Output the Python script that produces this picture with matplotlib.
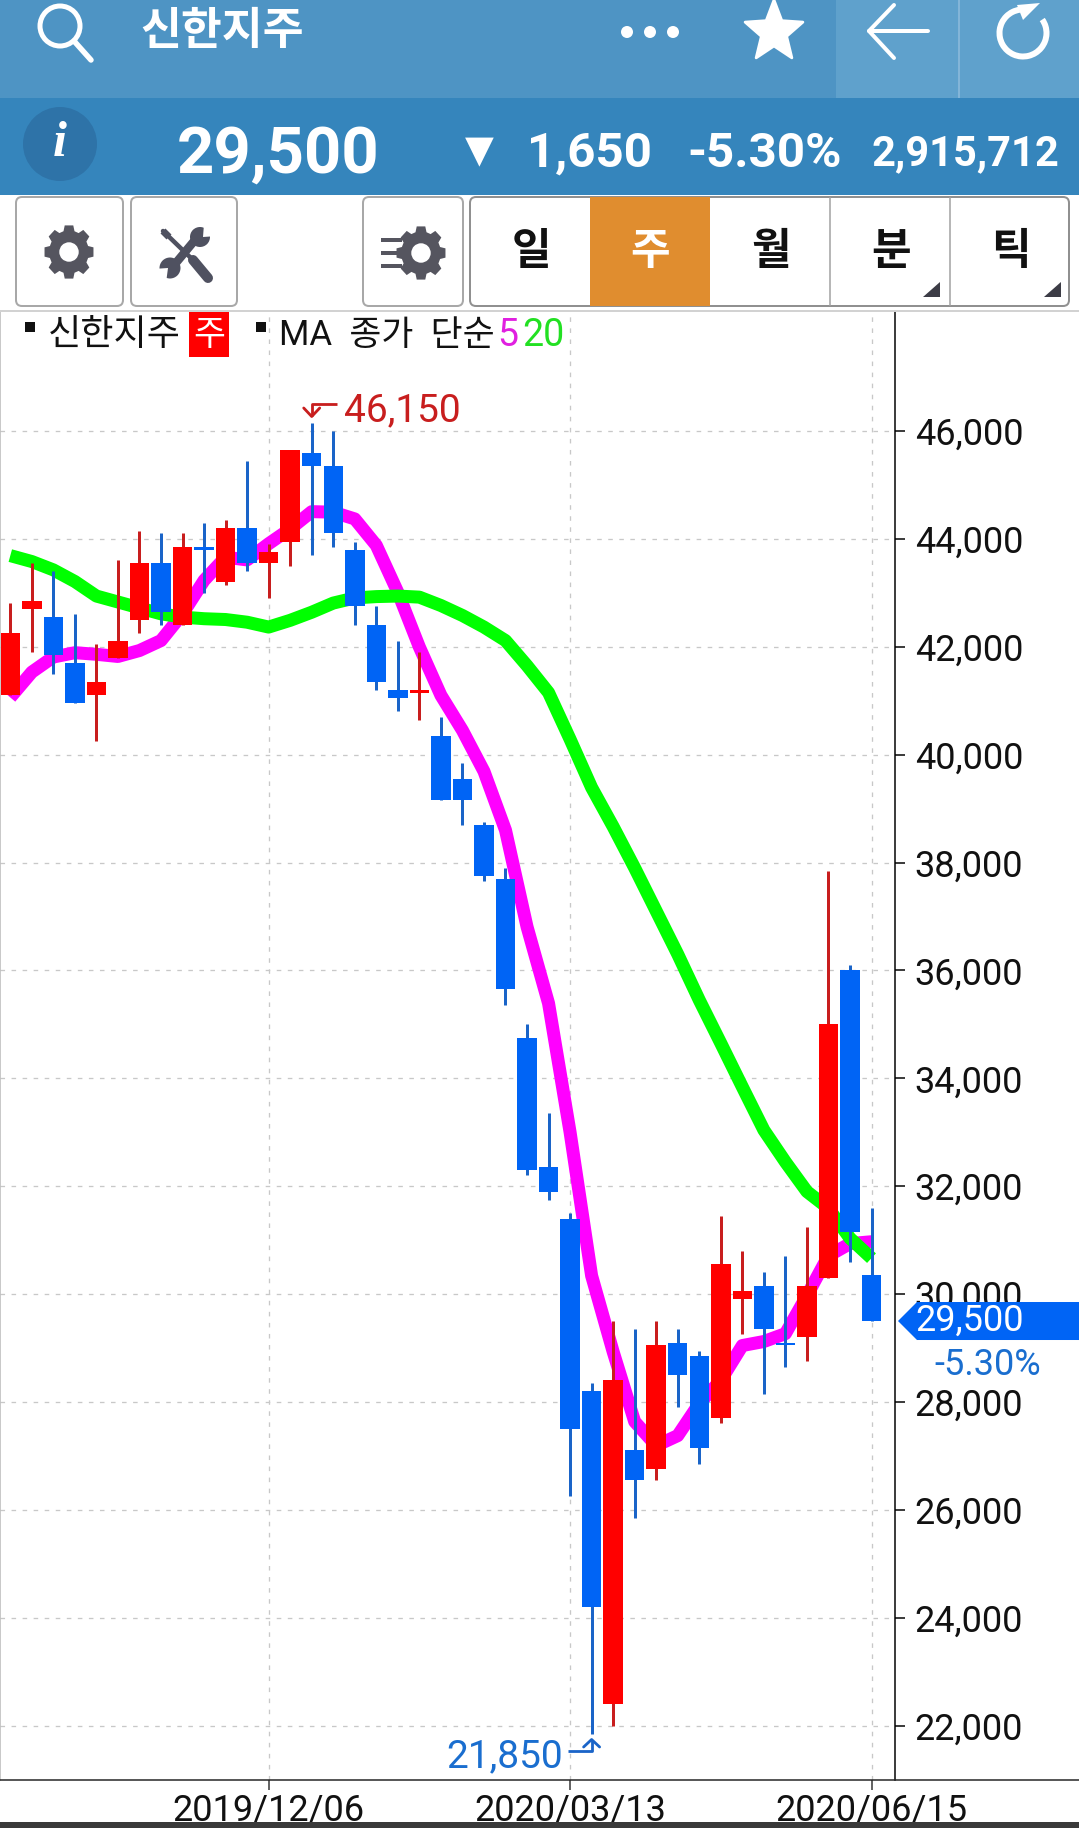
import numpy as np
import matplotlib
matplotlib.use("Agg")
import matplotlib.pyplot as plt
from matplotlib.patches import Polygon, Rectangle, Circle, FancyBboxPatch, Arc

plt.rcParams['font.family'] = ['Roboto', 'Noto Sans CJK KR', 'DejaVu Sans']

# ---------- data ----------
opens = [41100, 42700, 42550, 41700, 41100, 41800, 42500, 43550, 42400, 43850, 43200, 44200, 43550, 43950,
         45600, 45350, 43800, 42400, 41200, 41150, 40350, 39550, 38700, 37700, 34750, 32350, 31400, 28200,
         22400, 27100, 26750, 29100, 28850, 27700, 29900, 30150, 29100, 29200, 30300, 36000, 30350]
closes = [42250, 42850, 41850, 40950, 41350, 42100, 43550, 42650, 43850, 43800, 44200, 43550, 43750, 45650,
          45350, 44100, 42750, 41350, 41050, 41200, 39150, 39150, 37750, 35650, 32300, 31900, 27500, 24200,
          28400, 26550, 29050, 28500, 27150, 30550, 30050, 29350, 29050, 30150, 35000, 31150, 29500]
highs = [42820, 43550, 43400, 42600, 42050, 43600, 44150, 44100, 44100, 44300, 44350, 45450, 43900, 45650,
         46150, 46000, 43950, 42750, 42100, 41900, 40700, 39850, 38750, 37900, 35000, 33350, 31500, 28350,
         29500, 29350, 29500, 29350, 28950, 31450, 30800, 30400, 30700, 31250, 37850, 36100, 31600]
lows = [41100, 41900, 41500, 40950, 40250, 41800, 42250, 42400, 42400, 43000, 43150, 43400, 42900, 43500,
        43700, 43850, 42400, 41200, 40800, 40650, 39150, 38700, 37650, 35350, 32200, 31750, 26250, 21850,
        22000, 25850, 26550, 27900, 26850, 27600, 29250, 28150, 28650, 28750, 30300, 30600, 29500]
ma5 = [41060, 41530, 41810, 41890, 41860, 41820, 41930, 42115, 42610, 43230, 43660, 43610, 43910, 44185,
       44505, 44495, 44370, 43880, 43010, 41995, 41100, 40450, 39690, 38600, 36810, 35390, 33000, 30340,
       28930, 27635, 27190, 27375, 27970, 28400, 29045, 29120, 29265, 29970, 30710, 30935, 30970]
ma20 = [43690, 43580, 43425, 43210, 42940, 42830, 42720, 42610, 42550, 42520, 42505, 42455, 42365, 42490,
        42640, 42810, 42905, 42930, 42940, 42920, 42765, 42580, 42365, 42115, 41650, 41150, 40285, 39390,
        38665, 37900, 37100, 36300, 35450, 34650, 33840, 33040, 32450, 31900, 31590, 31035, 30665]
y_ticks = [22000, 24000, 26000, 28000, 30000, 32000, 34000, 36000, 38000, 40000, 42000, 44000, 46000]
date_pos = [12, 26, 40]
date_labels = ['2019/12/06', '2020/03/13', '2020/06/15']

W, H = 1079, 1828
fig = plt.figure(figsize=(W / 100, H / 100), dpi=100, facecolor='white')
PT = 0.72  # points per pixel

# ---------- chart axes ----------
AX_L, AX_R, AX_T, AX_B = 0, 895, 312, 1780
ax = fig.add_axes([AX_L / W, 1 - AX_B / H, (AX_R - AX_L) / W, (AX_B - AX_T) / H])
SLOPE = 0.05394
DX = 21.53
X0 = 10.3
ax.set_xlim((AX_L - X0) / DX, (AX_R - X0) / DX)
ax.set_ylim(46000 - (AX_B - 431) / SLOPE, 46000 - (AX_T - 431) / SLOPE)
for s in ['top', 'bottom']:
    ax.spines[s].set_visible(False)
ax.spines['left'].set_color('#b8b8b8')
ax.spines['left'].set_linewidth(1.5 * PT)
ax.spines['right'].set_color('black')
ax.spines['right'].set_linewidth(1.5 * PT)

ax.yaxis.tick_right()
ax.set_yticks(y_ticks)
ax.set_yticklabels([f'{v:,}' for v in y_ticks], fontsize=26, color='#111111')
ax.tick_params(axis='y', length=10 * PT, width=1.5 * PT, pad=7, color='black')
ax.set_xticks(date_pos)
ax.set_xticklabels(date_labels, fontsize=26, color='#111111')
ax.tick_params(axis='x', length=10 * PT, width=1.5 * PT, pad=2, color='#333333')

ax.grid(True, color='#c8c8c8', lw=1.3 * PT, linestyle=(0, (3.5, 5)), zorder=0)
ax.set_axisbelow(True)

x = np.arange(len(opens))
ax.plot(x, ma5, color='#ff00ff', lw=13 * PT, zorder=2, solid_joinstyle='round', solid_capstyle='butt')
ax.plot(x, ma20, color='#00ff00', lw=13 * PT, zorder=3, solid_joinstyle='round', solid_capstyle='butt')
for i in x:
    up = closes[i] > opens[i]
    wick = '#c81e1e' if up else '#1a64c8'
    body = '#ff0000' if up else '#0064f5'
    ax.vlines(i, lows[i], highs[i], color=wick, lw=3 * PT, zorder=4)
    ax.bar(i, abs(closes[i] - opens[i]), bottom=min(opens[i], closes[i]), width=19.5 / DX, color=body, zorder=5, lw=0)

# ---------- screen (pixel) layer ----------
ui = fig.add_axes([0, 0, 1, 1], facecolor='none')
ui.set_xlim(0, W)
ui.set_ylim(H, 0)
ui.axis('off')


def y_px(v):
    return 431 + (46000 - v) * SLOPE


def x_px(i):
    return X0 + i * DX


def line(xs, ys, color, lw, **kw):
    ui.plot(xs, ys, color=color, lw=lw * PT, solid_capstyle=kw.pop('cap', 'round'), **kw)


def gear(cx, cy, r, color='#55555f'):
    n = 8
    pts = []
    for k in range(n):
        a = 2 * np.pi * k / n - np.pi / 2
        w = np.pi / n * 0.55
        pts += [(a - w * 1.3, r * 0.80), (a - w * 0.8, r), (a + w * 0.8, r), (a + w * 1.3, r * 0.80)]
    poly = [(cx + rr * np.cos(a) * 0.92, cy + rr * np.sin(a)) for a, rr in pts]
    ui.add_patch(Polygon(poly, closed=True, fc=color, ec='none', zorder=3))
    ui.add_patch(Circle((cx, cy), r * 0.36, fc='white', ec='none', zorder=4))


# bottom rule + bottom band
line([0, W], [AX_B, AX_B], '#222222', 1.5, cap='butt')
ui.add_patch(Rectangle((0, 1822), W, 6, fc='#3a3a3a', ec='none', zorder=6))

# header bands
ui.add_patch(Rectangle((0, 0), W, 98, fc='#4e94c4', ec='none'))
ui.add_patch(Rectangle((836, 0), W - 836, 98, fc='#5fa1cc', ec='none'))
line([959, 959], [0, 98], '#8fbcdc', 1.5, cap='butt', zorder=2)
ui.add_patch(Rectangle((0, 98), W, 97, fc='#3585bc', ec='none'))
ui.add_patch(Rectangle((0, 195), W, 117, fc='white', ec='none'))
line([0, W], [311, 311], '#c4c4c4', 1.5, cap='butt', zorder=2)

# search icon
ui.add_patch(Circle((60, 26), 20, fc='none', ec='white', lw=5 * PT, zorder=3))
line([74, 91], [41, 60], 'white', 5.5, zorder=3)
ui.text(140, 31, '신한지주', color='white', fontsize=32, fontweight='bold', ha='left', va='center',
        family=['Noto Sans CJK KR'])
for cx in (627, 650, 673):
    ui.add_patch(Circle((cx, 32), 6, fc='white', ec='none', zorder=3))
# star
star = []
for k in range(10):
    rr = 32 if k % 2 == 0 else 14
    a = -np.pi / 2 + k * np.pi / 5
    star.append((774 + rr * np.cos(a) * 0.95, 32 + rr * np.sin(a)))
ui.add_patch(Polygon(star, closed=True, fc='white', ec='white', lw=2, joinstyle='round', zorder=3))
# back arrow
line([869, 928], [31, 31], 'white', 4, zorder=3)
line([894, 869, 894], [5, 31, 58], 'white', 4, zorder=3)
# reload
ui.add_patch(Arc((1023, 33), 47, 47, theta1=-35, theta2=262, ec='white', lw=6 * PT, zorder=3))
ui.add_patch(Polygon([(1040, 3), (1017, 5), (1023, 20)], closed=True, fc='white', ec='none', zorder=3))

# info band
ui.add_patch(Circle((60, 144), 37, fc='#2e73a8', ec='none', zorder=3))
ui.text(60, 144, 'i', color='white', fontsize=36, fontstyle='italic', fontweight='bold', ha='center', va='center',
        family=['Liberation Serif'], zorder=4)
ui.text(177, 155, '29,500', color='white', fontsize=47, fontweight='bold', ha='left', va='center', zorder=4)
ui.text(479, 152, '▼', color='white', fontsize=27, ha='center', va='center', family=['DejaVu Sans'], zorder=4)
ui.text(527, 154, '1,650', color='white', fontsize=35.5, fontweight='bold', ha='left', va='center', zorder=4)
ui.text(687, 154, '-5.30%', color='white', fontsize=35.5, fontweight='bold', ha='left', va='center', zorder=4)
ui.text(1059, 154, '2,915,712', color='white', fontsize=30, fontweight='bold', ha='right', va='center', zorder=4)


# toolbar
def button(x0, x1):
    ui.add_patch(FancyBboxPatch((x0 + 5, 202), x1 - x0 - 10, 99, boxstyle='round,pad=5,rounding_size=6',
                                fc='white', ec='#a8a8a8', lw=2 * PT, zorder=2))


button(16, 123)
button(131, 237)
button(363, 463)
gear(69, 252, 27)
# tools icon
TOOL = '#4f5160'
line([163, 193], [231, 260], TOOL, 4.5, zorder=3)
line([163, 169], [231, 237], TOOL, 7, cap='butt', zorder=3)
line([193, 208], [260, 278], TOOL, 10, zorder=3)
line([195, 175], [240, 264], TOOL, 8.5, cap='butt', zorder=4)
ui.add_patch(Circle((200, 237), 10, fc=TOOL, ec='none', zorder=4))
ui.add_patch(Circle((170, 268), 10.5, fc=TOOL, ec='none', zorder=4))
ui.add_patch(Polygon([(203, 237), (218, 236), (204, 224)], closed=True, fc='white', ec='none', zorder=5))
ui.add_patch(Polygon([(168, 268), (153, 269), (166, 283)], closed=True, fc='white', ec='none', zorder=5))
gear(421, 253, 27)
for yy in (240, 253, 266):
    line([381, 402], [yy, yy], '#55555f', 4, cap='butt', zorder=3)

ui.add_patch(FancyBboxPatch((475, 202), 589, 99, boxstyle='round,pad=5,rounding_size=6',
                            fc='white', ec='#909090', lw=2 * PT, zorder=2))
ui.add_patch(Rectangle((590, 197), 120, 109, fc='#e08d2f', ec='none', zorder=3))
for xx in (830, 950):
    line([xx, xx], [197, 306], '#a0a0a0', 1.5, cap='butt', zorder=3)
for cx, s, c in zip((531, 650, 771, 891, 1011), ('일', '주', '월', '분', '틱'),
                    ('#111111', 'white', '#111111', '#111111', '#111111')):
    ui.text(cx, 251, s, color=c, fontsize=31, fontweight='bold', ha='center', va='center',
            family=['Noto Sans CJK KR'], zorder=4)
for xr in (940, 1061):
    ui.add_patch(Polygon([(xr, 282), (xr, 297), (xr - 17, 297)], closed=True, fc='#3c3c46', ec='none', zorder=4))

# legend row
for xx in (25, 256):
    ui.add_patch(Rectangle((xx, 322), 10, 10, fc='#111111', ec='none', zorder=4))
ui.text(48, 335, '신한지주', color='#111111', fontsize=26, ha='left', va='center',
        family=['Noto Sans CJK KR'], zorder=4)
ui.add_patch(Rectangle((189, 312), 40, 45, fc='#ff0000', ec='none', zorder=3))
ui.text(209, 335, '주', color='white', fontsize=25, ha='center', va='center', family=['Noto Sans CJK KR'], zorder=4)
ui.text(279, 335, 'MA  종가  단순', color='#111111', fontsize=25, ha='left', va='center',
        family=['Roboto', 'Noto Sans CJK KR'], zorder=4)
ui.text(497, 335, '5', color='#e020e0', fontsize=27, ha='left', va='center', zorder=4)
ui.text(522, 335, '20', color='#22e022', fontsize=27, ha='left', va='center', zorder=4)

# high / low markers
hi_i, lo_i = int(np.argmax(highs)), int(np.argmin(lows))
hx, lx = x_px(hi_i), x_px(lo_i)
line([hx + 25, hx, hx], [404, 404, 416], '#c81e1e', 2.8, cap='butt', zorder=7)
line([hx - 8, hx, hx + 8], [408, 416.5, 408], '#c81e1e', 2.8, zorder=7)
ui.text(344, 411, f'{max(highs):,}', color='#c81e1e', fontsize=28, ha='left', va='center', zorder=7)
line([lx - 24, lx, lx], [1751, 1751, 1740], '#1a64c8', 2.8, cap='butt', zorder=7)
line([lx - 8, lx, lx + 8], [1747, 1739.5, 1747], '#1a64c8', 2.8, zorder=7)
ui.text(563, 1757, f'{min(lows):,}', color='#1a6ecf', fontsize=28, ha='right', va='center', zorder=7)

# current price tag
ty = y_px(closes[-1])
ui.add_patch(Polygon([(898, ty), (917, ty - 19), (W, ty - 19), (W, ty + 19), (917, ty + 19)], closed=True,
                     fc='#0064f5', ec='none', zorder=7))
ui.text(915, ty, f'{closes[-1]:,}', color='white', fontsize=26, ha='left', va='center', zorder=8)
ui.text(988, 1365, '-5.30%', color='#1a6ecf', fontsize=26, ha='center', va='center', zorder=8)

fig.savefig('out.png', dpi=100, facecolor='white')
